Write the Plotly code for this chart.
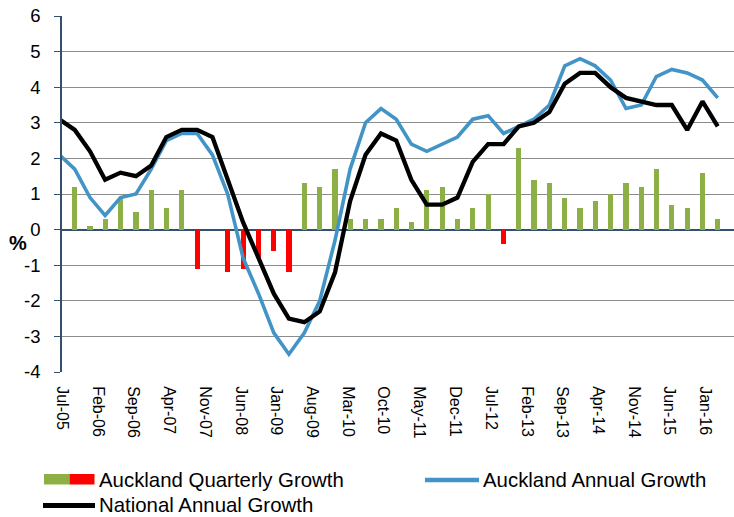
import datetime as dt
import plotly.graph_objects as go

# ---------------- data (quarterly, Jun-05 .. Mar-16) ----------------
quarter_dates = []
y, m = 2005, 6
for _ in range(44):
    quarter_dates.append(dt.date(y, m, 15).isoformat())
    m += 3
    if m > 12:
        m -= 12
        y += 1

auckland_quarterly = [None, 1.2, 0.1, 0.3, 0.9, 0.5, 1.1, 0.6, 1.1, -1.1,
                      0.0, -1.2, -1.1, -0.8, -0.6, -1.2, 1.3, 1.2, 1.7, 0.3,
                      0.3, 0.3, 0.6, 0.2, 1.1, 1.2, 0.3, 0.6, 1.0, -0.4,
                      2.3, 1.4, 1.3, 0.9, 0.6, 0.8, 1.0, 1.3, 1.2, 1.7,
                      0.7, 0.6, 1.6, 0.3]

auckland_annual = [2.1, 1.7, 0.9, 0.4, 0.9, 1.0, 1.7, 2.5, 2.7, 2.7,
                   2.1, 1.0, -0.8, -1.8, -2.9, -3.5, -2.9, -2.0, -0.3, 1.7,
                   3.0, 3.4, 3.1, 2.4, 2.2, 2.4, 2.6, 3.1, 3.2, 2.7,
                   2.9, 3.1, 3.5, 4.6, 4.8, 4.6, 4.2, 3.4, 3.5, 4.3,
                   4.5, 4.4, 4.2, 3.7]

national_annual = [3.1, 2.8, 2.2, 1.4, 1.6, 1.5, 1.8, 2.6, 2.8, 2.8,
                   2.6, 1.4, 0.2, -0.8, -1.8, -2.5, -2.6, -2.3, -1.2, 0.8,
                   2.1, 2.7, 2.5, 1.4, 0.7, 0.7, 0.9, 1.9, 2.4, 2.4,
                   2.9, 3.0, 3.3, 4.1, 4.4, 4.4, 4.0, 3.7, 3.6, 3.5,
                   3.5, 2.8, 3.6, 2.9]

y_ticks = [-4, -3, -2, -1, 0, 1, 2, 3, 4, 5, 6]
legend_labels = ["Auckland Quarterly Growth", "Auckland Annual Growth",
                 "National Annual Growth"]

# ---------------- styles ----------------
GREEN = "#8DB046"
RED = "#FF0000"
BLUE = "#4294C7"
BLACK = "#000000"
AXIS = "#33506E"
GRID = "#8C8C8C"
FONT = "Liberation Sans, Arial, sans-serif"

bar_colors = [RED if (v is not None and v < 0) else GREEN for v in auckland_quarterly]

fig = go.Figure()
fig.add_trace(go.Bar(x=quarter_dates, y=auckland_quarterly, marker_color=bar_colors,
                     marker_line_width=0, width=31 * 86400000,
                     name=legend_labels[0], showlegend=False))
fig.add_trace(go.Scatter(x=quarter_dates, y=auckland_annual, mode="lines",
                         line=dict(color=BLUE, width=3.6), name=legend_labels[1],
                         showlegend=False))
fig.add_trace(go.Scatter(x=quarter_dates, y=national_annual, mode="lines",
                         line=dict(color=BLACK, width=4.3), name=legend_labels[2],
                         showlegend=False))

W, H = 734, 517
L, R, T, B = 62, 0, 16, 145
PW, PH = W - L - R, H - T - B


def px(xp):
    return (xp - L) / PW


def py(yp):
    return (H - B - yp) / PH


shapes = [
    dict(type="rect", xref="paper", yref="paper", x0=px(44), x1=px(69.5),
         y0=py(484.5), y1=py(474), fillcolor=GREEN, line_width=0),
    dict(type="rect", xref="paper", yref="paper", x0=px(69.5), x1=px(94.5),
         y0=py(484.5), y1=py(474), fillcolor=RED, line_width=0),
    dict(type="line", xref="paper", yref="paper", x0=px(425), x1=px(479),
         y0=py(480), y1=py(480), line=dict(color=BLUE, width=4.5)),
    dict(type="line", xref="paper", yref="paper", x0=px(43), x1=px(95),
         y0=py(505.5), y1=py(505.5), line=dict(color=BLACK, width=5)),
]

LEG_SIZE = 20.4
annotations = [
    dict(text=legend_labels[0], xref="paper", yref="paper", x=px(98), y=py(479.5),
         xanchor="left", yanchor="middle", showarrow=False, borderpad=0,
         font=dict(family=FONT, size=LEG_SIZE, color="#000")),
    dict(text=legend_labels[1], xref="paper", yref="paper", x=px(482), y=py(479.5),
         xanchor="left", yanchor="middle", showarrow=False, borderpad=0,
         font=dict(family=FONT, size=LEG_SIZE, color="#000")),
    dict(text=legend_labels[2], xref="paper", yref="paper", x=px(98), y=py(505),
         xanchor="left", yanchor="middle", showarrow=False, borderpad=0,
         font=dict(family=FONT, size=LEG_SIZE, color="#000")),
    dict(text="<b>%</b>", xref="paper", yref="paper", x=px(17.5), y=py(243),
         xanchor="center", yanchor="middle", showarrow=False, borderpad=0,
         font=dict(family=FONT, size=20, color="#000")),
]

fig.update_layout(
    width=W, height=H, autosize=False,
    margin=dict(l=L, r=R, t=T, b=B, pad=0),
    paper_bgcolor="white", plot_bgcolor="white",
    bargap=0, showlegend=False,
    shapes=shapes, annotations=annotations,
    font=dict(family=FONT, color="#000"),
)

fig.update_xaxes(
    type="date", range=["2005-07-01", "2016-06-20"],
    tick0="2005-07-01", dtick="M7", tickformat="%b-%y", tickangle=90,
    showgrid=False, zeroline=False, showline=False,
    ticks="outside", ticklen=10, tickcolor="rgba(0,0,0,0)",
    tickfont=dict(family=FONT, size=16, color="#000"),
)

fig.update_yaxes(
    range=[-4, 6], tickvals=y_ticks, ticktext=[str(v) for v in y_ticks],
    showgrid=True, gridcolor=GRID, gridwidth=1.3,
    zeroline=True, zerolinecolor=AXIS, zerolinewidth=1.5,
    showline=True, linecolor=AXIS, linewidth=1.5,
    ticks="outside", ticklen=6, tickcolor=AXIS, tickwidth=1.3,
    ticklabelstandoff=10,
    tickfont=dict(family=FONT, size=18.5, color="#000"),
)

fig.write_html(
    "out.html",
    config={"displayModeBar": False},
    post_script="document.body.style.margin='0';document.body.style.overflow='hidden';",
)
